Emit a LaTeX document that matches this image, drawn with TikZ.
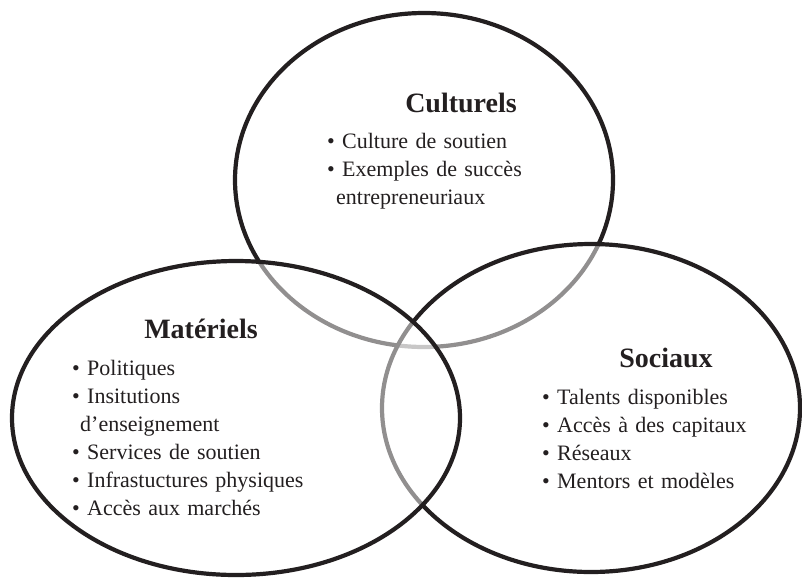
\documentclass[tikz,border=0pt]{standalone}
\usepackage{fontspec}
\setmainfont{Liberation Serif}

\definecolor{ink}{HTML}{231F20}

\def\culturels{(424,-180) ellipse (189 and 167)}
\def\sociaux{(591,-408) ellipse (209 and 164)}
\def\materiels{(236,-418) ellipse (224 and 157)}
\newcommand{\puce}{\makebox[15pt][l]{\textbullet}}

\begin{document}
\begin{tikzpicture}[x=1pt,y=1pt,
    ring/.style={draw=ink,line width=4.2pt},
    voile/.style={fill=white,fill opacity=0.5},
    titre/.style={font=\fontsize{28}{34}\selectfont\bfseries,text=ink,inner sep=0pt,anchor=base},
    liste/.style={font=\fontsize{22}{28}\selectfont,text=ink,text width=9cm,align=left,inner sep=0pt,anchor=base west}]
    \useasboundingbox (0,0) rectangle (802,-579);

    \draw[ring] \culturels;
    \draw[ring,voile] \sociaux;
    \draw[ring,voile] \materiels;

    \node[titre] (cult-titre) at (461,-112) {Culturels};
    \node[liste] (cult-liste) at (327,-148) {\puce Culture de soutien\\
      \puce Exemples de succès\\
      \hspace*{9pt}entrepreneuriaux};

    \node[titre] (mat-titre) at (201,-338) {Matériels};
    \node[liste] (mat-liste) at (72,-375) {\puce Politiques\\
      \puce Insitutions\\
      \hspace*{8pt}d’enseignement\\
      \puce Services de soutien\\
      \puce Infrastuctures physiques\\
      \puce Accès aux marchés};

    \node[titre] (soc-titre) at (666,-367) {Sociaux};
    \node[liste] (soc-liste) at (542,-404) {\puce Talents disponibles\\
      \puce Accès à des capitaux\\
      \puce Réseaux\\
      \puce Mentors et modèles};

\end{tikzpicture}
\end{document}
